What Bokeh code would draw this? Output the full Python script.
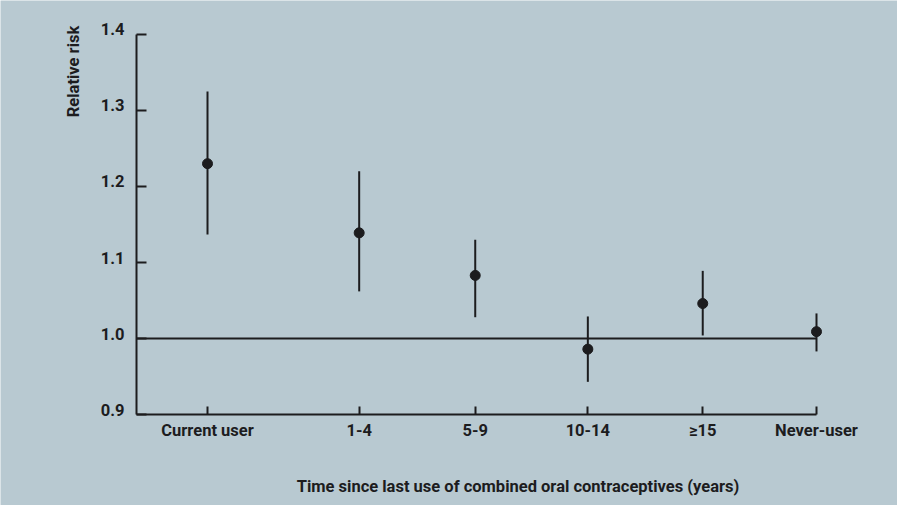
from bokeh.plotting import figure
from bokeh.models import FixedTicker, ColumnDataSource
from bokeh.core.properties import value
from bokeh.embed import file_html
from bokeh.resources import INLINE
import math

categories = ["Current user", "1-4", "5-9", "10-14", "\u226515", "Never-user"]
x_pos = [0.0, 1.32, 2.33, 3.31, 4.31, 5.3]
rr = [1.230, 1.139, 1.083, 0.986, 1.046, 1.009]
lower = [1.137, 1.062, 1.028, 0.943, 1.004, 0.983]
upper = [1.325, 1.220, 1.130, 1.029, 1.089, 1.033]
y_ticks = [0.9, 1.0, 1.1, 1.2, 1.3, 1.4]
y_tick_labels = ["0.9", "1.0", "1.1", "1.2", "1.3", "1.4"]
ref_level = 1.0
x_title = "Time since last use of combined oral contraceptives (years)"
y_title = "Relative risk"

BG = "#b8c9d1"
INK = "#1c1c1e"
FONT = "Roboto"
FS_TICK = "16.5px"
FS_TITLE = "16.5px"

# axis extents (data units) and view window
X_AXIS_START = -0.618
X_VIEW = (-1.8016, 6.005)
Y_VIEW = (0.7803, 1.4447)

src = ColumnDataSource(dict(x=x_pos, rr=rr, lo=lower, hi=upper))

p = figure(width=897, height=505, output_backend="svg", toolbar_location=None,
           x_range=X_VIEW, y_range=Y_VIEW, min_border=0)
p.background_fill_color = BG
p.border_fill_color = BG
p.outline_line_color = None
p.xgrid.visible = False
p.ygrid.visible = False

for ax in (p.xaxis[0], p.yaxis[0]):
    ax.axis_line_width = 2
    ax.axis_line_color = INK
    ax.major_tick_line_width = 2
    ax.major_tick_line_color = INK
    ax.major_tick_out = 0
    ax.minor_tick_line_color = None
    ax.major_label_text_font = FONT
    ax.major_label_text_font_style = "bold"
    ax.major_label_text_font_size = FS_TICK
    ax.major_label_text_color = INK

p.yaxis.ticker = FixedTicker(ticks=y_ticks)
p.yaxis.major_tick_in = 10
p.yaxis.major_label_text_color = None
p.yaxis.fixed_location = X_AXIS_START
p.yaxis.bounds = (min(y_ticks), max(y_ticks))

p.xaxis.ticker = FixedTicker(ticks=x_pos)
p.xaxis.major_label_overrides = {x: c for x, c in zip(x_pos, categories)}
p.xaxis.major_tick_in = 8
p.xaxis.major_label_standoff = 6
p.xaxis.fixed_location = min(y_ticks)
p.xaxis.bounds = (X_AXIS_START, max(x_pos))

# y tick labels, set slightly above their ticks as in the original
p.text(x=[X_AXIS_START] * len(y_ticks), y=y_ticks, text=y_tick_labels, x_offset=-12, y_offset=-5,
       text_align="right", text_baseline="middle", text_font=value(FONT),
       text_font_style="bold", text_font_size=FS_TICK, text_color=INK)

# reference line at RR = 1.0, from the y axis to the last category
p.segment(x0=[X_AXIS_START], y0=[ref_level], x1=[max(x_pos)], y1=[ref_level],
          line_color=INK, line_width=2)

p.segment(x0="x", y0="lo", x1="x", y1="hi", source=src, line_color=INK, line_width=2)
p.scatter(x="x", y="rr", source=src, size=10, fill_color=INK, line_color=INK)

p.text(x=[2.702], y=[0.8053], text=[x_title], text_align="center", text_baseline="alphabetic",
       text_font=value(FONT), text_font_style="bold", text_font_size=FS_TITLE, text_color=INK)
p.text(x=[-1.166], y=[1.3513], text=[y_title], angle=math.pi / 2, text_align="center",
       text_baseline="alphabetic", text_font=value(FONT), text_font_style="bold",
       text_font_size=FS_TITLE, text_color=INK)

open("out.html", "w").write(file_html(p, INLINE))
